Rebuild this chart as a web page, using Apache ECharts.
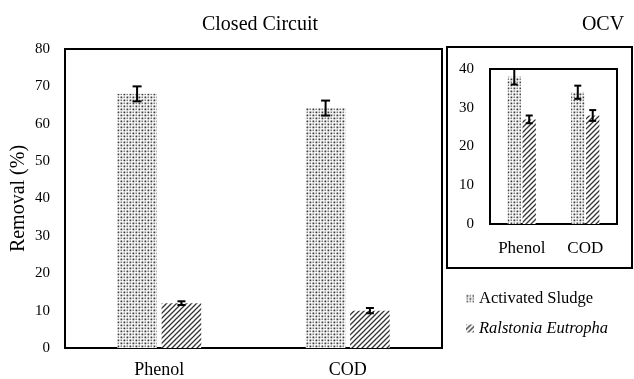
<!DOCTYPE html>
<html><head><meta charset="utf-8">
<script src="https://cdn.jsdelivr.net/npm/echarts@6/dist/echarts.min.js"></script>
<style>html,body{margin:0;padding:0;background:#fff}#c{width:634px;height:379px}</style>
</head><body><div id="c"></div>
<script>
var categories = ['Phenol', 'COD'];
var seriesNames = ['Activated Sludge', 'Ralstonia Eutropha'];
var ccSludge = [68, 64.2];
var ccSludgeErr = [2, 2];
var ccRalstonia = [12, 10];
var ccRalstoniaErr = [0.5, 0.7];
var ocvSludge = [38, 34];
var ocvSludgeErr = [2, 1.7];
var ocvRalstonia = [27, 28];
var ocvRalstoniaErr = [1, 1.4];
var ccTicks = [0, 10, 20, 30, 40, 50, 60, 70, 80];
var ocvTicks = [0, 10, 20, 30, 40];

function dotPattern() {
  var c = document.createElement('canvas'); c.width = 6; c.height = 6;
  var g = c.getContext('2d');
  g.fillStyle = '#fff'; g.fillRect(0, 0, 6, 6);
  g.fillStyle = '#3a3a3a';
  g.fillRect(0.5, 0.5, 1.8, 1.8); g.fillRect(3.5, 3.5, 1.8, 1.8);
  g.fillStyle = '#7a7a7a';
  g.fillRect(3.5, 0.5, 1.6, 1.6); g.fillRect(0.5, 3.5, 1.6, 1.6);
  return c;
}
function hatchPattern() {
  var c = document.createElement('canvas'); c.width = 5; c.height = 5;
  var g = c.getContext('2d');
  g.fillStyle = '#fff'; g.fillRect(0, 0, 5, 5);
  g.strokeStyle = '#333'; g.lineWidth = 1.3;
  g.beginPath();
  g.moveTo(-1, 6); g.lineTo(6, -1);
  g.moveTo(-1, 1); g.lineTo(1, -1);
  g.moveTo(4, 6); g.lineTo(6, 4);
  g.stroke();
  return c;
}
var dotFill = { image: dotPattern(), repeat: 'repeat' };
var hatchFill = { image: hatchPattern(), repeat: 'repeat' };

var BARW = 0.21, GAP = 0.12;
function errSeries(xi, yi, vals, errs, side, cap) {
  var data = vals.map(function (v, i) { return [i, v, errs[i]]; });
  return {
    type: 'custom', xAxisIndex: xi, yAxisIndex: yi, data: data, z: 10, silent: true, clip: false,
    renderItem: function (params, api) {
      var band = api.size([1, 0])[0];
      var bw = band * BARW;
      var off = side * bw * (1 + GAP) / 2;
      var hi = api.coord([api.value(0), api.value(1) + api.value(2)]);
      var lo = api.coord([api.value(0), api.value(1) - api.value(2)]);
      var x = hi[0] + off;
      var st = { stroke: '#000', lineWidth: 2 };
      return { type: 'group', children: [
        { type: 'line', shape: { x1: x, y1: hi[1], x2: x, y2: lo[1] }, style: st },
        { type: 'line', shape: { x1: x - cap, y1: hi[1], x2: x + cap, y2: hi[1] }, style: st },
        { type: 'line', shape: { x1: x - cap, y1: lo[1], x2: x + cap, y2: lo[1] }, style: st }
      ]};
    }
  };
}

var font = 'Liberation Serif';
var chart = echarts.init(document.getElementById('c'));
chart.setOption({
  animation: false,
  backgroundColor: '#fff',
  textStyle: { fontFamily: font, color: '#000' },
  title: [
    { text: 'Closed Circuit', left: 255, top: 10, textAlign: 'center',
      textStyle: { fontFamily: font, fontSize: 20, fontWeight: 'normal', color: '#000' } },
    { text: 'OCV', left: 598, top: 10, textAlign: 'center',
      textStyle: { fontFamily: font, fontSize: 20, fontWeight: 'normal', color: '#000' } }
  ],
  legend: {
    data: seriesNames, orient: 'vertical', left: 461, top: 285, itemGap: 13,
    itemWidth: 8, itemHeight: 8, icon: 'rect',
    formatter: function (n) { return n === 'Ralstonia Eutropha' ? '{i|' + n + '}' : n; },
    textStyle: { fontFamily: font, fontSize: 16.5, color: '#000',
      rich: { i: { fontFamily: font, fontSize: 16.5, fontStyle: 'italic', color: '#000' } } }
  },
  graphic: [
    { type: 'rect', shape: { x: 447, y: 47, width: 185, height: 221 },
      style: { fill: 'none', stroke: '#000', lineWidth: 2 }, z: -1 }
  ],
  grid: [
    { left: 65, top: 49, width: 377, height: 299, show: true, borderColor: '#000', borderWidth: 2,
      backgroundColor: 'transparent', containLabel: false, outerBoundsMode: 'none' },
    { left: 490, top: 69, width: 127, height: 155, show: true, borderColor: '#000', borderWidth: 2,
      backgroundColor: 'transparent', containLabel: false, outerBoundsMode: 'none' }
  ],
  xAxis: [
    { type: 'category', gridIndex: 0, data: categories, axisTick: { show: false },
      axisLine: { lineStyle: { color: '#000', width: 2 } },
      axisLabel: { fontFamily: font, fontSize: 18, color: '#000', margin: 13 } },
    { type: 'category', gridIndex: 1, data: categories, axisTick: { show: false },
      axisLine: { lineStyle: { color: '#000', width: 2 } },
      axisLabel: { fontFamily: font, fontSize: 17, color: '#000', margin: 16 } }
  ],
  yAxis: [
    { type: 'value', gridIndex: 0, min: ccTicks[0], max: ccTicks[ccTicks.length - 1], interval: 10,
      splitLine: { show: false }, axisTick: { show: false }, axisLine: { show: false },
      axisLabel: { fontFamily: font, fontSize: 15, color: '#000', margin: 15 },
      name: 'Removal (%)', nameLocation: 'middle', nameGap: 36, nameMoveOverlap: false,
      nameTextStyle: { fontFamily: font, fontSize: 20, color: '#000' } },
    { type: 'value', gridIndex: 1, min: ocvTicks[0], max: ocvTicks[ocvTicks.length - 1], interval: 10,
      splitLine: { show: false }, axisTick: { show: false }, axisLine: { show: false },
      axisLabel: { fontFamily: font, fontSize: 15, color: '#000', margin: 16 } }
  ],
  series: [
    { name: seriesNames[0], type: 'bar', xAxisIndex: 0, yAxisIndex: 0, data: ccSludge,
      barWidth: '21%', barGap: '12%', itemStyle: { color: dotFill } },
    { name: seriesNames[1], type: 'bar', xAxisIndex: 0, yAxisIndex: 0, data: ccRalstonia,
      barWidth: '21%', barGap: '12%', itemStyle: { color: hatchFill } },
    { name: seriesNames[0], type: 'bar', xAxisIndex: 1, yAxisIndex: 1, data: ocvSludge,
      barWidth: '21%', barGap: '12%', itemStyle: { color: dotFill } },
    { name: seriesNames[1], type: 'bar', xAxisIndex: 1, yAxisIndex: 1, data: ocvRalstonia,
      barWidth: '21%', barGap: '12%', itemStyle: { color: hatchFill } },
    errSeries(0, 0, ccSludge, ccSludgeErr, -1, 4.5),
    errSeries(0, 0, ccRalstonia, ccRalstoniaErr, 1, 4),
    errSeries(1, 1, ocvSludge, ocvSludgeErr, -1, 3.5),
    errSeries(1, 1, ocvRalstonia, ocvRalstoniaErr, 1, 3.5)
  ]
});
</script></body></html>
